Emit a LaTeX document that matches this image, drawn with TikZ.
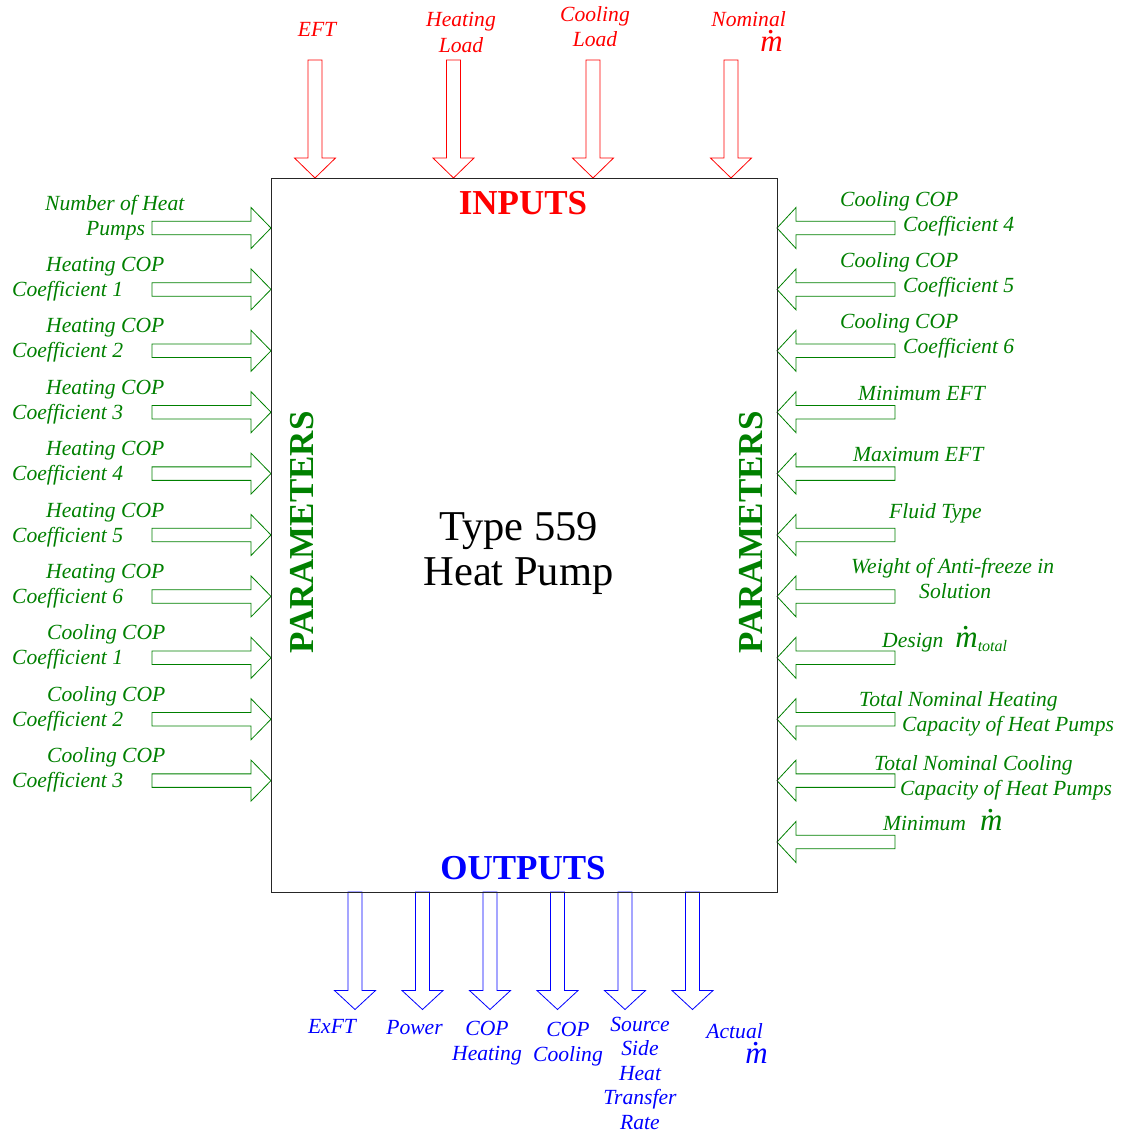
\documentclass[tikz,border=0pt]{standalone}
\usepackage{fontspec}
\setmainfont{Liberation Serif}
\definecolor{pgreen}{RGB}{0,128,0}
\definecolor{pred}{RGB}{255,0,0}
\definecolor{pblue}{RGB}{0,0,255}
\newcommand{\mdot}{{\fontsize{31}{31}\selectfont\itshape\ooalign{m\cr\hidewidth\raisebox{0.58em}{.}\hidewidth\cr}}}
\newcommand{\twoline}[3][l]{\begin{tabular}[b]{@{}#1@{}}#2\\#3\end{tabular}}
\begin{document}
\begin{tikzpicture}[x=1pt,y=-1pt,
  lab/.style={font=\fontsize{21.6}{25}\selectfont\itshape, inner sep=0pt, anchor=base west},
  clab/.style={lab, anchor=base},
  big/.style={font=\fontsize{35}{35}\selectfont\bfseries, inner sep=0pt, anchor=base},
  garr/.style={draw=pgreen, line width=0.8pt, fill=white},
  rarr/.style={draw=pred, line width=0.8pt, fill=white},
  barr/.style={draw=pblue, line width=0.8pt, fill=white}]
\useasboundingbox (0,0) rectangle (1125,1135);
% input arrows (top)
\foreach \cx in {315,453.5,593,731}
  \draw[rarr] (\cx-7,60) -- (\cx+7,60) -- (\cx+7,158) -- (\cx+20.5,158) -- (\cx,178) -- (\cx-20.5,158) -- (\cx-7,158) -- cycle;
% output arrows (bottom)
\foreach \cx in {355,422.5,490,557.5,625,692.5}
  \draw[barr] (\cx-7,892) -- (\cx+7,892) -- (\cx+7,990.5) -- (\cx+20.5,990.5) -- (\cx,1009.5) -- (\cx-20.5,990.5) -- (\cx-7,990.5) -- cycle;
% left parameter arrows
\foreach \i in {0,...,9}
  \draw[garr] (152,228+61.4*\i-6.75) -- (251,228+61.4*\i-6.75) -- (251,228+61.4*\i-20.5) -- (271,228+61.4*\i) -- (251,228+61.4*\i+20.5) -- (251,228+61.4*\i+6.75) -- (152,228+61.4*\i+6.75) -- cycle;
% right parameter arrows
\foreach \i in {0,...,10}
  \draw[garr] (895,228+61.4*\i-6.75) -- (796,228+61.4*\i-6.75) -- (796,228+61.4*\i-20.5) -- (777,228+61.4*\i) -- (796,228+61.4*\i+20.5) -- (796,228+61.4*\i+6.75) -- (895,228+61.4*\i+6.75) -- cycle;
% main block
\node (box) [draw=black!85, line width=1pt, minimum width=506pt, minimum height=714pt, inner sep=0pt, anchor=north west] at (271,178) {};
% headings
\node[big, text=pred] (inputs) at (523,214) {INPUTS};
\node[big, text=pblue] (outputs) at (523,879.3) {OUTPUTS};
\node[big, text=pgreen, rotate=90] (parl) at (313,532.5) {PARAMETERS};
\node[big, text=pgreen, rotate=90] (parr) at (762.5,532.5) {PARAMETERS};
\node[font=\fontsize{42.5}{45}\selectfont, inner sep=0pt, anchor=base] (title) at (518.5,585) {\twoline[c]{Type 559}{Heat Pump}};
% top labels
\begin{scope}[every node/.style={text=pred}]
\node[clab] (in1) at (317,36.5) {EFT};
\node[clab] (in2) at (461,52) {\twoline[c]{Heating}{Load}};
\node[clab] (in3) at (595,46) {\twoline[c]{Cooling}{Load}};
\node[lab, anchor=base east] (in4) at (786,51.5) {\twoline[r]{Nominal}{\mdot\hspace*{3pt}}};
\end{scope}
% bottom labels
\begin{scope}[every node/.style={text=pblue}]
\node[clab] (out1) at (332,1033) {ExFT};
\node[clab] (out2) at (414.5,1034) {Power};
\node[clab] (out3) at (487,1060) {\twoline[c]{COP}{Heating}};
\node[clab] (out4) at (568,1061) {\twoline[c]{COP}{Cooling}};
\node[clab, font=\fontsize{21.6}{24.5}\selectfont\itshape] (out5) at (640,1129) {\begin{tabular}[b]{@{}c@{}}Source\\Side\\Heat\\Transfer\\Rate\end{tabular}};
\node[lab, anchor=base east] (out6) at (768,1063) {\twoline[r]{Actual\hspace*{5pt}}{\mdot}};
\end{scope}
% left labels
\begin{scope}[every node/.style={text=pgreen}]
\node[lab] (pl0) at (45,235) {\twoline{Number of Heat}{\hspace*{41pt}Pumps}};
\node[lab] (pl1) at (12,296.4) {\twoline{\hspace*{34pt}Heating COP}{Coefficient 1}};
\node[lab] (pl2) at (12,357.8) {\twoline{\hspace*{34pt}Heating COP}{Coefficient 2}};
\node[lab] (pl3) at (12,419.2) {\twoline{\hspace*{34pt}Heating COP}{Coefficient 3}};
\node[lab] (pl4) at (12,480.6) {\twoline{\hspace*{34pt}Heating COP}{Coefficient 4}};
\node[lab] (pl5) at (12,542) {\twoline{\hspace*{34pt}Heating COP}{Coefficient 5}};
\node[lab] (pl6) at (12,603.4) {\twoline{\hspace*{34pt}Heating COP}{Coefficient 6}};
\node[lab] (pl7) at (12,664.8) {\twoline{\hspace*{35pt}Cooling COP}{Coefficient 1}};
\node[lab] (pl8) at (12,726.2) {\twoline{\hspace*{35pt}Cooling COP}{Coefficient 2}};
\node[lab] (pl9) at (12,787.6) {\twoline{\hspace*{35pt}Cooling COP}{Coefficient 3}};
% right labels
\node[lab] (pr0) at (840,231) {\twoline{Cooling COP}{\hspace*{63pt}Coefficient 4}};
\node[lab] (pr1) at (840,292.4) {\twoline{Cooling COP}{\hspace*{63pt}Coefficient 5}};
\node[lab] (pr2) at (840,353.8) {\twoline{Cooling COP}{\hspace*{63pt}Coefficient 6}};
\node[lab] (pr3) at (858,400) {Minimum EFT};
\node[lab] (pr4) at (853,461) {Maximum EFT};
\node[lab] (pr5) at (889,518) {Fluid Type};
\node[lab] (pr6) at (851,598) {\twoline{Weight of Anti-freeze in}{\hspace*{68pt}Solution}};
\node[lab] (pr7) at (882,647) {Design\hspace{12pt}\mdot\raisebox{-4pt}{\fontsize{16}{16}\selectfont total}};
\node[lab] (pr8) at (859,731) {\twoline{Total Nominal Heating}{\hspace*{43pt}Capacity of Heat Pumps}};
\node[lab] (pr9) at (874,795) {\twoline{Total Nominal Cooling}{\hspace*{26pt}Capacity of Heat Pumps}};
\node[lab] (pr10) at (883,830) {Minimum\hspace{14pt}\mdot};
\end{scope}
\end{tikzpicture}
\end{document}
